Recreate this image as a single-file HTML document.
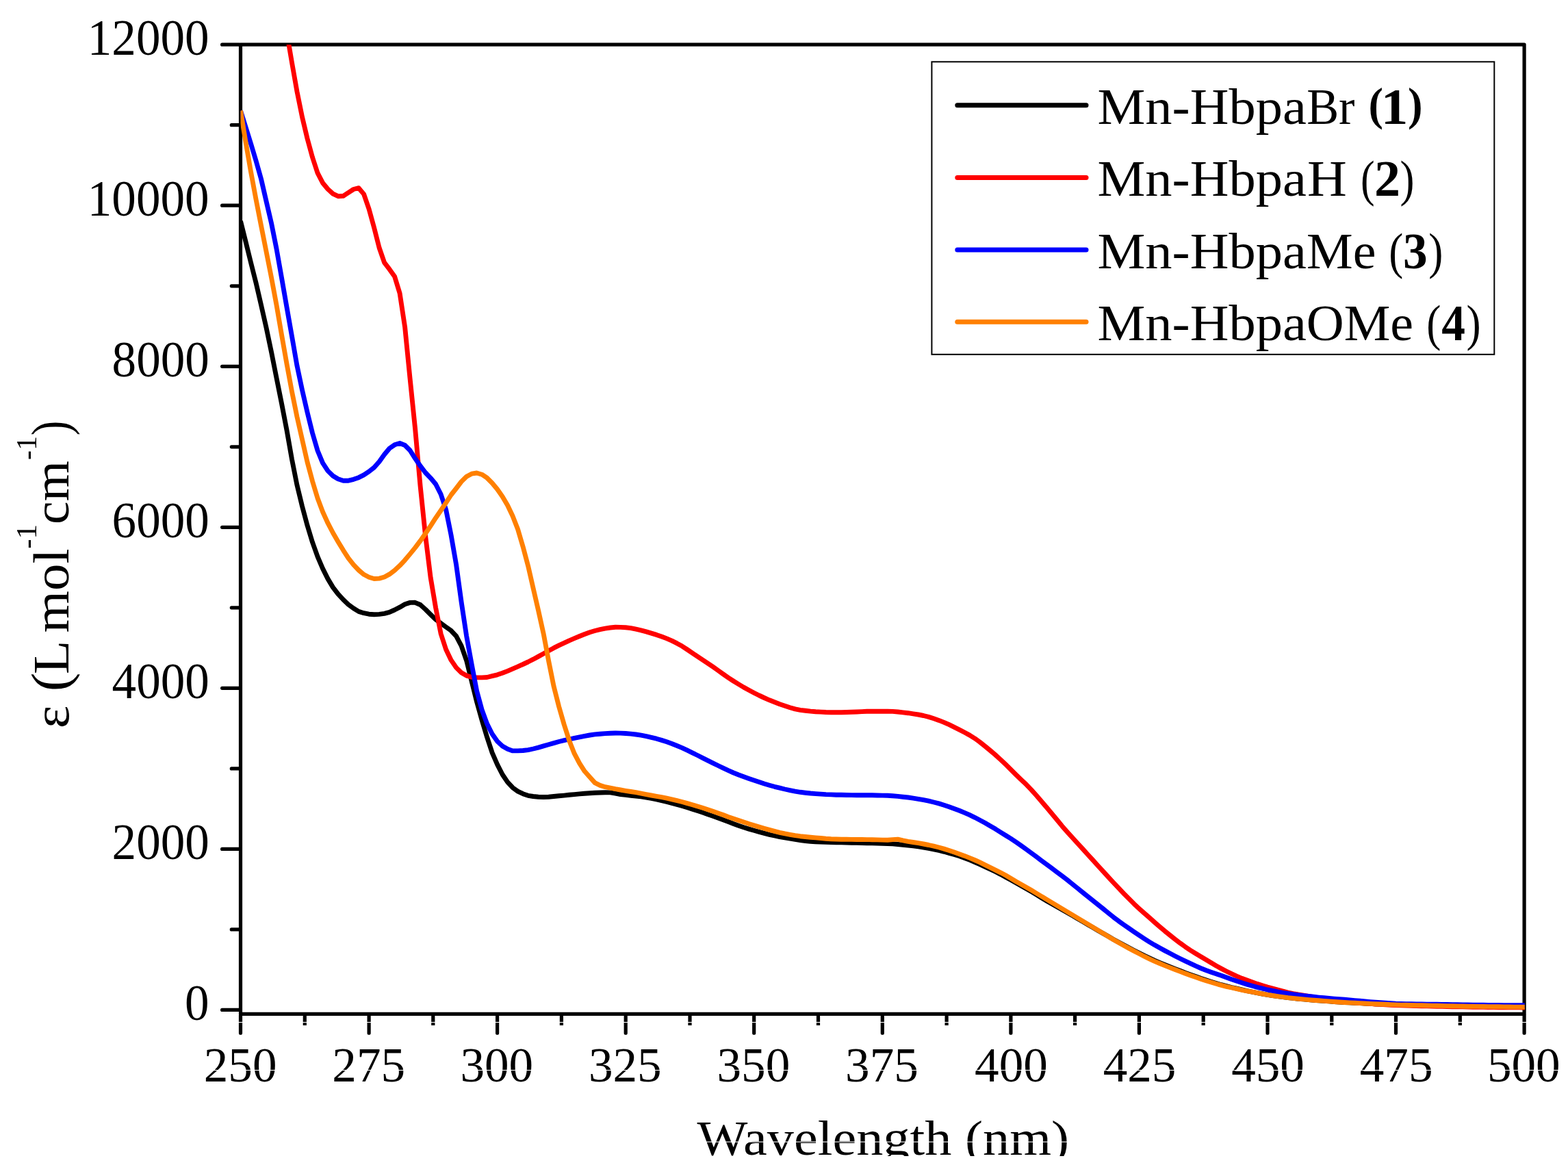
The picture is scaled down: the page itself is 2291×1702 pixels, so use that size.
<!DOCTYPE html>
<html lang="en"><head><meta charset="utf-8"><title>UV-Vis spectra</title>
<style>
html,body{margin:0;padding:0;background:#fff;}
svg{display:block;font-family:'Liberation Serif', serif;}
</style></head><body>
<svg width="2291" height="1702" viewBox="0 0 2291 1702">
<rect x="0" y="0" width="2291" height="1702" fill="#fff"/>
<defs><clipPath id="plot"><rect x="351.5" y="65.2" width="1876.35" height="1416.1"/></clipPath><clipPath id="ttl"><rect x="900" y="1600" width="800" height="88.9"/></clipPath></defs>
<g fill="none" stroke="#000" stroke-width="5.2" stroke-linecap="round" stroke-linejoin="round">
<rect x="351.5" y="65.2" width="1875.6" height="1416.1"/>
<path d="M324.6,1475.4H349.5M338.3,1357.9H349.5M324.6,1240.4H349.5M338.3,1122.9H349.5M324.6,1005.3H349.5M338.3,887.8H349.5M324.6,770.3H349.5M338.3,652.8H349.5M324.6,535.3H349.5M338.3,417.8H349.5M324.6,300.2H349.5M338.3,182.7H349.5M324.6,65.2H349.5M351.5,1483.3V1509.2M539.1,1483.3V1509.2M726.6,1483.3V1509.2M914.2,1483.3V1509.2M1101.7,1483.3V1509.2M1289.3,1483.3V1509.2M1476.9,1483.3V1509.2M1664.4,1483.3V1509.2M1852.0,1483.3V1509.2M2039.5,1483.3V1509.2M2227.1,1483.3V1509.2"/>
<path stroke-linecap="butt" d="M445.3,1481.3V1498M632.8,1481.3V1498M820.4,1481.3V1498M1008.0,1481.3V1498M1195.5,1481.3V1498M1383.1,1481.3V1498M1570.6,1481.3V1498M1758.2,1481.3V1498M1945.8,1481.3V1498M2133.3,1481.3V1498"/>
</g>
<g clip-path="url(#plot)" fill="none" stroke-width="6.9" stroke-linejoin="round" stroke-linecap="butt">
<path stroke="#000000" d="M351.5,323.0L359.0,353.2L366.5,383.5L374.0,413.2L381.5,445.5L389.0,478.6L396.5,514.3L404.0,552.1L411.5,589.5L419.0,628.5L426.5,671.1L434.0,708.8L441.5,739.6L449.0,767.6L456.5,792.2L464.0,813.1L471.5,830.6L479.0,845.6L486.5,858.1L494.0,867.9L501.5,876.0L509.1,883.3L516.6,888.8L524.1,893.4L531.6,895.7L539.1,897.2L546.6,897.8L554.1,897.4L561.6,896.3L569.1,894.4L576.6,891.0L584.1,887.2L591.6,882.8L599.1,880.4L606.6,880.3L614.1,883.5L621.6,890.3L629.1,897.8L636.6,905.0L644.1,910.6L651.6,916.0L659.1,921.3L666.6,929.4L674.1,943.6L681.6,965.0L689.1,995.1L696.6,1025.3L704.1,1052.1L711.6,1076.9L719.1,1099.7L726.6,1116.9L734.1,1131.5L741.6,1142.7L749.1,1150.7L756.6,1156.1L764.1,1159.7L771.6,1162.3L779.1,1163.5L786.6,1164.2L794.1,1164.5L801.6,1164.2L809.1,1163.5L816.6,1162.8L824.2,1162.1L831.7,1161.3L839.2,1160.6L846.7,1159.9L854.2,1159.2L861.7,1158.7L869.2,1158.3L876.7,1158.0L884.2,1157.8L891.7,1157.9L899.2,1159.1L906.7,1160.5L914.2,1161.4L921.7,1162.2L929.2,1163.0L936.7,1163.9L944.2,1165.1L951.7,1166.4L959.2,1168.0L966.7,1169.7L974.2,1171.5L981.7,1173.4L989.2,1175.4L996.7,1177.4L1004.2,1179.7L1011.7,1182.1L1019.2,1184.6L1026.7,1187.1L1034.2,1189.7L1041.7,1192.3L1049.2,1195.0L1056.7,1197.8L1064.2,1200.6L1071.7,1203.5L1079.2,1206.2L1086.7,1208.8L1094.2,1211.1L1101.7,1213.3L1109.2,1215.4L1116.7,1217.4L1124.2,1219.3L1131.7,1221.0L1139.3,1222.6L1146.8,1223.9L1154.3,1225.1L1161.8,1226.4L1169.3,1227.5L1176.8,1228.5L1184.3,1229.2L1191.8,1229.8L1199.3,1230.1L1206.8,1230.3L1214.3,1230.5L1221.8,1230.7L1229.3,1230.9L1236.8,1231.0L1244.3,1231.2L1251.8,1231.4L1259.3,1231.5L1266.8,1231.7L1274.3,1231.8L1281.8,1232.0L1289.3,1232.3L1296.8,1232.5L1304.3,1232.9L1311.8,1233.5L1319.3,1234.2L1326.8,1235.0L1334.3,1235.9L1341.8,1236.9L1349.3,1238.0L1356.8,1239.3L1364.3,1240.8L1371.8,1242.5L1379.3,1244.3L1386.8,1246.4L1394.3,1248.5L1401.8,1250.8L1409.3,1253.5L1416.8,1256.4L1424.3,1259.6L1431.8,1262.9L1439.3,1266.4L1446.9,1269.9L1454.4,1273.5L1461.9,1277.3L1469.4,1281.4L1476.9,1285.5L1484.4,1289.6L1491.9,1293.9L1499.4,1298.2L1506.9,1302.6L1514.4,1307.1L1521.9,1311.7L1529.4,1316.2L1536.9,1320.5L1544.4,1324.8L1551.9,1329.0L1559.4,1333.3L1566.9,1337.6L1574.4,1342.0L1581.9,1346.3L1589.4,1350.7L1596.9,1355.1L1604.4,1359.4L1611.9,1363.8L1619.4,1368.1L1626.9,1372.4L1634.4,1376.5L1641.9,1380.6L1649.4,1384.6L1656.9,1388.5L1664.4,1392.3L1671.9,1396.1L1679.4,1399.7L1686.9,1403.1L1694.4,1406.3L1701.9,1409.4L1709.4,1412.5L1716.9,1415.4L1724.4,1418.3L1731.9,1421.2L1739.4,1423.9L1746.9,1426.6L1754.4,1429.3L1762.0,1431.8L1769.5,1434.2L1777.0,1436.5L1784.5,1438.7L1792.0,1440.6L1799.5,1442.5L1807.0,1444.2L1814.5,1445.9L1822.0,1447.6L1829.5,1449.1L1837.0,1450.6L1844.5,1452.0L1852.0,1453.3L1859.5,1454.5L1867.0,1455.6L1874.5,1456.6L1882.0,1457.6L1889.5,1458.4L1897.0,1459.2L1904.5,1459.9L1912.0,1460.6L1919.5,1461.2L1927.0,1461.8L1934.5,1462.4L1942.0,1462.9L1949.5,1463.5L1957.0,1464.0L1964.5,1464.5L1972.0,1464.9L1979.5,1465.3L1987.0,1465.6L1994.5,1466.0L2002.0,1466.4L2009.5,1466.7L2017.0,1467.0L2024.5,1467.3L2032.0,1467.6L2039.5,1467.9L2047.0,1468.1L2054.5,1468.3L2062.0,1468.5L2069.5,1468.7L2077.1,1468.8L2084.6,1469.0L2092.1,1469.1L2099.6,1469.3L2107.1,1469.4L2114.6,1469.6L2122.1,1469.7L2129.6,1469.9L2137.1,1470.0L2144.6,1470.2L2152.1,1470.3L2159.6,1470.4L2167.1,1470.5L2174.6,1470.6L2182.1,1470.7L2189.6,1470.8L2197.1,1470.9L2204.6,1471.0L2212.1,1471.1L2219.6,1471.1L2227.1,1471.2L2227.9,1471.2"/>
<path stroke="#ff0000" d="M351.5,-351.9L359.0,-307.4L366.5,-263.0L374.0,-218.6L381.5,-174.3L389.0,-129.9L396.5,-85.6L404.0,-41.3L411.5,3.0L419.0,47.3L426.5,91.5L434.0,133.9L441.5,170.9L449.0,202.4L456.5,229.8L464.0,252.7L471.5,267.2L479.0,276.3L486.5,283.1L494.0,286.7L501.5,286.3L509.1,281.3L516.6,276.5L524.1,274.7L531.6,283.6L539.1,305.4L546.6,332.6L554.1,362.0L561.6,383.6L569.1,393.4L576.6,403.9L584.1,428.6L591.6,477.7L599.1,553.4L606.6,626.3L614.1,710.1L621.6,782.7L629.1,843.7L636.6,887.8L644.1,925.7L651.6,948.7L659.1,964.4L666.6,975.4L674.1,982.7L681.6,987.1L689.1,989.3L696.6,989.9L704.1,989.9L711.6,989.5L719.1,987.7L726.6,985.8L734.1,983.3L741.6,980.4L749.1,977.1L756.6,973.8L764.1,970.5L771.6,967.0L779.1,963.2L786.6,959.1L794.1,954.9L801.6,950.8L809.1,946.7L816.6,942.9L824.2,939.3L831.7,935.8L839.2,932.6L846.7,929.5L854.2,926.5L861.7,923.7L869.2,921.5L876.7,919.7L884.2,918.2L891.7,917.0L899.2,916.3L906.7,916.4L914.2,916.8L921.7,917.6L929.2,919.2L936.7,920.9L944.2,922.9L951.7,925.1L959.2,927.4L966.7,930.0L974.2,932.9L981.7,936.2L989.2,939.9L996.7,944.1L1004.2,949.0L1011.7,954.1L1019.2,959.1L1026.7,964.1L1034.2,969.1L1041.7,974.2L1049.2,979.5L1056.7,984.9L1064.2,990.1L1071.7,995.0L1079.2,999.6L1086.7,1004.1L1094.2,1008.2L1101.7,1012.2L1109.2,1016.0L1116.7,1019.5L1124.2,1022.8L1131.7,1025.8L1139.3,1028.7L1146.8,1031.2L1154.3,1033.7L1161.8,1035.9L1169.3,1037.4L1176.8,1038.3L1184.3,1039.1L1191.8,1039.7L1199.3,1040.1L1206.8,1040.5L1214.3,1040.7L1221.8,1040.8L1229.3,1040.7L1236.8,1040.5L1244.3,1040.3L1251.8,1040.0L1259.3,1039.6L1266.8,1039.3L1274.3,1039.3L1281.8,1039.3L1289.3,1039.3L1296.8,1039.3L1304.3,1039.4L1311.8,1040.0L1319.3,1040.9L1326.8,1041.7L1334.3,1042.8L1341.8,1044.0L1349.3,1045.5L1356.8,1047.4L1364.3,1049.8L1371.8,1052.4L1379.3,1055.4L1386.8,1058.7L1394.3,1062.4L1401.8,1066.1L1409.3,1070.0L1416.8,1074.1L1424.3,1078.8L1431.8,1084.2L1439.3,1090.2L1446.9,1096.5L1454.4,1102.9L1461.9,1109.7L1469.4,1116.8L1476.9,1124.2L1484.4,1131.7L1491.9,1138.9L1499.4,1146.1L1506.9,1153.9L1514.4,1162.2L1521.9,1171.0L1529.4,1179.8L1536.9,1188.7L1544.4,1197.8L1551.9,1206.9L1559.4,1215.5L1566.9,1223.8L1574.4,1232.0L1581.9,1240.2L1589.4,1248.5L1596.9,1256.7L1604.4,1265.0L1611.9,1273.1L1619.4,1281.3L1626.9,1289.5L1634.4,1297.4L1641.9,1305.3L1649.4,1312.9L1656.9,1320.4L1664.4,1327.4L1671.9,1334.1L1679.4,1340.7L1686.9,1347.3L1694.4,1353.8L1701.9,1360.2L1709.4,1366.3L1716.9,1372.2L1724.4,1377.9L1731.9,1383.3L1739.4,1388.4L1746.9,1393.0L1754.4,1397.5L1762.0,1402.0L1769.5,1406.5L1777.0,1411.0L1784.5,1415.1L1792.0,1419.0L1799.5,1422.7L1807.0,1426.1L1814.5,1429.3L1822.0,1432.1L1829.5,1434.8L1837.0,1437.4L1844.5,1439.7L1852.0,1442.0L1859.5,1444.1L1867.0,1446.1L1874.5,1448.1L1882.0,1450.0L1889.5,1451.6L1897.0,1453.0L1904.5,1454.2L1912.0,1455.5L1919.5,1456.7L1927.0,1457.9L1934.5,1459.0L1942.0,1460.1L1949.5,1461.1L1957.0,1462.0L1964.5,1462.9L1972.0,1463.7L1979.5,1464.5L1987.0,1465.2L1994.5,1465.9L2002.0,1466.4L2009.5,1467.0L2017.0,1467.4L2024.5,1467.9L2032.0,1468.3L2039.5,1468.6L2047.0,1468.8L2054.5,1469.1L2062.0,1469.3L2069.5,1469.5L2077.1,1469.7L2084.6,1469.9L2092.1,1470.0L2099.6,1470.2L2107.1,1470.4L2114.6,1470.5L2122.1,1470.7L2129.6,1470.8L2137.1,1470.9L2144.6,1471.1L2152.1,1471.2L2159.6,1471.3L2167.1,1471.4L2174.6,1471.5L2182.1,1471.6L2189.6,1471.7L2197.1,1471.7L2204.6,1471.8L2212.1,1471.9L2219.6,1471.9L2227.1,1472.0L2227.9,1472.0"/>
<path stroke="#0000ff" d="M351.5,161.8L359.0,185.9L366.5,209.7L374.0,234.7L381.5,261.4L389.0,293.9L396.5,326.0L404.0,363.5L411.5,405.9L419.0,448.8L426.5,491.4L434.0,534.3L441.5,569.7L449.0,602.2L456.5,632.6L464.0,658.2L471.5,676.4L479.0,687.9L486.5,695.2L494.0,699.8L501.5,702.2L509.1,702.2L516.6,700.3L524.1,697.7L531.6,693.9L539.1,688.9L546.6,683.0L554.1,674.5L561.6,664.0L569.1,655.0L576.6,649.8L584.1,647.5L591.6,650.5L599.1,658.0L606.6,669.8L614.1,680.7L621.6,690.5L629.1,698.3L636.6,707.3L644.1,722.0L651.6,744.5L659.1,781.9L666.6,825.0L674.1,879.5L681.6,929.1L689.1,970.2L696.6,1009.3L704.1,1036.9L711.6,1057.4L719.1,1072.3L726.6,1082.9L734.1,1089.9L741.6,1094.3L749.1,1096.9L756.6,1096.9L764.1,1096.5L771.6,1095.6L779.1,1094.0L786.6,1092.1L794.1,1089.9L801.6,1087.7L809.1,1085.6L816.6,1083.5L824.2,1081.7L831.7,1080.0L839.2,1078.3L846.7,1076.8L854.2,1075.4L861.7,1074.0L869.2,1072.9L876.7,1072.2L884.2,1071.6L891.7,1071.3L899.2,1071.0L906.7,1071.1L914.2,1071.5L921.7,1072.1L929.2,1073.0L936.7,1074.2L944.2,1075.6L951.7,1077.3L959.2,1079.2L966.7,1081.4L974.2,1083.8L981.7,1086.5L989.2,1089.5L996.7,1092.6L1004.2,1096.2L1011.7,1099.9L1019.2,1103.5L1026.7,1107.3L1034.2,1111.1L1041.7,1114.8L1049.2,1118.5L1056.7,1122.2L1064.2,1125.7L1071.7,1129.0L1079.2,1132.0L1086.7,1134.8L1094.2,1137.5L1101.7,1140.1L1109.2,1142.6L1116.7,1145.0L1124.2,1147.2L1131.7,1149.3L1139.3,1151.2L1146.8,1153.0L1154.3,1154.6L1161.8,1156.1L1169.3,1157.3L1176.8,1158.2L1184.3,1159.0L1191.8,1159.6L1199.3,1160.1L1206.8,1160.6L1214.3,1160.9L1221.8,1161.2L1229.3,1161.3L1236.8,1161.5L1244.3,1161.6L1251.8,1161.7L1259.3,1161.7L1266.8,1161.8L1274.3,1161.8L1281.8,1162.0L1289.3,1162.1L1296.8,1162.3L1304.3,1162.8L1311.8,1163.4L1319.3,1164.2L1326.8,1165.0L1334.3,1166.1L1341.8,1167.3L1349.3,1168.7L1356.8,1170.2L1364.3,1172.0L1371.8,1173.9L1379.3,1176.2L1386.8,1178.7L1394.3,1181.5L1401.8,1184.3L1409.3,1187.4L1416.8,1190.7L1424.3,1194.3L1431.8,1198.2L1439.3,1202.3L1446.9,1206.7L1454.4,1211.1L1461.9,1215.8L1469.4,1220.5L1476.9,1225.2L1484.4,1230.2L1491.9,1235.4L1499.4,1240.8L1506.9,1246.2L1514.4,1251.7L1521.9,1257.4L1529.4,1263.0L1536.9,1268.6L1544.4,1274.2L1551.9,1279.8L1559.4,1285.6L1566.9,1291.6L1574.4,1297.6L1581.9,1303.7L1589.4,1309.7L1596.9,1315.7L1604.4,1321.7L1611.9,1327.8L1619.4,1333.9L1626.9,1339.9L1634.4,1345.6L1641.9,1351.0L1649.4,1356.2L1656.9,1361.3L1664.4,1366.4L1671.9,1371.3L1679.4,1376.1L1686.9,1380.6L1694.4,1384.8L1701.9,1388.9L1709.4,1392.8L1716.9,1396.7L1724.4,1400.5L1731.9,1404.1L1739.4,1407.7L1746.9,1411.2L1754.4,1414.5L1762.0,1417.5L1769.5,1420.2L1777.0,1422.8L1784.5,1425.3L1792.0,1428.0L1799.5,1430.7L1807.0,1433.3L1814.5,1435.7L1822.0,1438.1L1829.5,1440.3L1837.0,1442.4L1844.5,1444.2L1852.0,1446.0L1859.5,1447.5L1867.0,1449.0L1874.5,1450.3L1882.0,1451.5L1889.5,1452.6L1897.0,1453.6L1904.5,1454.6L1912.0,1455.5L1919.5,1456.3L1927.0,1457.1L1934.5,1457.8L1942.0,1458.5L1949.5,1459.1L1957.0,1459.6L1964.5,1460.2L1972.0,1460.9L1979.5,1461.6L1987.0,1462.3L1994.5,1462.9L2002.0,1463.6L2009.5,1464.2L2017.0,1464.7L2024.5,1465.3L2032.0,1465.8L2039.5,1466.2L2047.0,1466.4L2054.5,1466.6L2062.0,1466.7L2069.5,1466.9L2077.1,1467.0L2084.6,1467.1L2092.1,1467.2L2099.6,1467.3L2107.1,1467.4L2114.6,1467.5L2122.1,1467.7L2129.6,1467.8L2137.1,1467.9L2144.6,1468.0L2152.1,1468.1L2159.6,1468.2L2167.1,1468.3L2174.6,1468.4L2182.1,1468.4L2189.6,1468.5L2197.1,1468.6L2204.6,1468.6L2212.1,1468.7L2219.6,1468.8L2227.1,1468.8L2227.9,1468.8"/>
<path stroke="#ff8000" d="M351.5,161.6L359.0,207.5L366.5,250.8L374.0,291.1L381.5,329.5L389.0,367.4L396.5,405.3L404.0,445.7L411.5,489.1L419.0,531.7L426.5,572.2L434.0,609.0L441.5,642.0L449.0,675.0L456.5,702.9L464.0,727.8L471.5,747.7L479.0,764.2L486.5,778.5L494.0,791.4L501.5,803.8L509.1,815.6L516.6,825.2L524.1,833.0L531.6,839.3L539.1,843.2L546.6,845.5L554.1,845.1L561.6,843.0L569.1,838.9L576.6,833.3L584.1,826.3L591.6,818.3L599.1,809.4L606.6,800.1L614.1,790.2L621.6,779.5L629.1,768.3L636.6,756.7L644.1,745.8L651.6,734.6L659.1,723.0L666.6,713.5L674.1,703.6L681.6,696.2L689.1,692.2L696.6,691.0L704.1,693.2L711.6,698.2L719.1,705.7L726.6,714.8L734.1,725.5L741.6,738.3L749.1,754.0L756.6,773.3L764.1,798.7L771.6,826.8L779.1,859.6L786.6,891.9L794.1,925.7L801.6,965.5L809.1,1002.7L816.6,1032.1L824.2,1058.5L831.7,1081.9L839.2,1100.9L846.7,1115.1L854.2,1126.8L861.7,1135.2L869.2,1143.6L876.7,1147.4L884.2,1149.7L891.7,1151.2L899.2,1152.7L906.7,1154.0L914.2,1155.3L921.7,1156.5L929.2,1157.7L936.7,1159.1L944.2,1160.6L951.7,1162.0L959.2,1163.3L966.7,1164.7L974.2,1166.2L981.7,1167.8L989.2,1169.6L996.7,1171.5L1004.2,1173.6L1011.7,1175.7L1019.2,1178.0L1026.7,1180.3L1034.2,1182.7L1041.7,1185.2L1049.2,1187.9L1056.7,1190.6L1064.2,1193.4L1071.7,1196.0L1079.2,1198.6L1086.7,1201.1L1094.2,1203.6L1101.7,1205.9L1109.2,1208.1L1116.7,1210.3L1124.2,1212.4L1131.7,1214.4L1139.3,1216.3L1146.8,1217.9L1154.3,1219.3L1161.8,1220.6L1169.3,1221.7L1176.8,1222.5L1184.3,1223.2L1191.8,1223.9L1199.3,1224.5L1206.8,1225.2L1214.3,1225.7L1221.8,1226.0L1229.3,1226.2L1236.8,1226.3L1244.3,1226.4L1251.8,1226.5L1259.3,1226.5L1266.8,1226.6L1274.3,1226.7L1281.8,1226.9L1289.3,1227.1L1296.8,1227.2L1304.3,1226.6L1311.8,1226.1L1319.3,1227.9L1326.8,1229.4L1334.3,1230.5L1341.8,1231.7L1349.3,1233.0L1356.8,1234.5L1364.3,1236.2L1371.8,1238.0L1379.3,1240.1L1386.8,1242.5L1394.3,1245.1L1401.8,1247.7L1409.3,1250.4L1416.8,1253.4L1424.3,1256.5L1431.8,1259.9L1439.3,1263.6L1446.9,1267.3L1454.4,1271.1L1461.9,1274.8L1469.4,1278.8L1476.9,1283.2L1484.4,1287.8L1491.9,1292.0L1499.4,1296.2L1506.9,1300.6L1514.4,1305.1L1521.9,1309.6L1529.4,1314.1L1536.9,1318.6L1544.4,1323.1L1551.9,1327.6L1559.4,1332.1L1566.9,1336.6L1574.4,1341.1L1581.9,1345.6L1589.4,1350.1L1596.9,1354.6L1604.4,1359.1L1611.9,1363.6L1619.4,1368.2L1626.9,1372.7L1634.4,1377.1L1641.9,1381.3L1649.4,1385.4L1656.9,1389.4L1664.4,1393.3L1671.9,1397.2L1679.4,1400.8L1686.9,1404.3L1694.4,1407.5L1701.9,1410.6L1709.4,1413.6L1716.9,1416.5L1724.4,1419.4L1731.9,1422.2L1739.4,1424.9L1746.9,1427.6L1754.4,1430.2L1762.0,1432.7L1769.5,1435.0L1777.0,1437.3L1784.5,1439.4L1792.0,1441.3L1799.5,1443.0L1807.0,1444.7L1814.5,1446.3L1822.0,1447.8L1829.5,1449.2L1837.0,1450.6L1844.5,1452.0L1852.0,1453.3L1859.5,1454.5L1867.0,1455.6L1874.5,1456.6L1882.0,1457.6L1889.5,1458.4L1897.0,1459.2L1904.5,1459.9L1912.0,1460.6L1919.5,1461.2L1927.0,1461.8L1934.5,1462.4L1942.0,1462.9L1949.5,1463.5L1957.0,1464.0L1964.5,1464.5L1972.0,1464.9L1979.5,1465.3L1987.0,1465.6L1994.5,1466.0L2002.0,1466.4L2009.5,1466.7L2017.0,1467.0L2024.5,1467.3L2032.0,1467.6L2039.5,1467.9L2047.0,1468.1L2054.5,1468.3L2062.0,1468.5L2069.5,1468.7L2077.1,1468.8L2084.6,1469.0L2092.1,1469.1L2099.6,1469.3L2107.1,1469.4L2114.6,1469.6L2122.1,1469.7L2129.6,1469.9L2137.1,1470.0L2144.6,1470.2L2152.1,1470.3L2159.6,1470.4L2167.1,1470.5L2174.6,1470.6L2182.1,1470.7L2189.6,1470.8L2197.1,1470.9L2204.6,1471.0L2212.1,1471.1L2219.6,1471.1L2227.1,1471.2L2227.9,1471.2"/>
</g>
<rect x="1361.4" y="90.3" width="821.9" height="427.5" fill="#fff" stroke="#000" stroke-width="2"/>
<g fill="none" stroke-width="7" stroke-linecap="round">
<path stroke="#000000" d="M1398.8,153.8H1587"/>
<path stroke="#ff0000" d="M1398.8,259.4H1587"/>
<path stroke="#0000ff" d="M1398.8,365.0H1587"/>
<path stroke="#ff8000" d="M1398.8,470.3H1587"/>
</g>
<g fill="#000">
<text clip-path="url(#ttl)" font-size="72"><tspan x="1018.50" y="1687.40" textLength="543.60" lengthAdjust="spacingAndGlyphs">Wavelength (nm)</tspan></text>
<text font-size="73.5"><tspan x="1603.46" y="180.60" textLength="305.39" lengthAdjust="spacingAndGlyphs">Mn-Hbpa</tspan><tspan x="1909.18" y="180.60" textLength="70.39" lengthAdjust="spacingAndGlyphs">Br</tspan> <tspan x="1999.61" y="174.70" textLength="21.46" lengthAdjust="spacingAndGlyphs" font-weight="bold" font-size="66.8">(</tspan><tspan x="2017.73" y="180.60" textLength="39.61" lengthAdjust="spacingAndGlyphs" font-weight="bold">1</tspan><tspan x="2056.96" y="174.70" textLength="21.60" lengthAdjust="spacingAndGlyphs" font-weight="bold" font-size="66.8">)</tspan></text>
<text font-size="73.5"><tspan x="1603.46" y="286.10" textLength="305.39" lengthAdjust="spacingAndGlyphs">Mn-Hbpa</tspan><tspan x="1910.12" y="286.10" textLength="57.87" lengthAdjust="spacingAndGlyphs">H</tspan> <tspan x="1988.07" y="286.10" textLength="20.62" lengthAdjust="spacingAndGlyphs">(</tspan><tspan x="2008.09" y="286.10" textLength="38.05" lengthAdjust="spacingAndGlyphs" font-weight="bold">2</tspan><tspan x="2045.48" y="286.10" textLength="21.01" lengthAdjust="spacingAndGlyphs">)</tspan></text>
<text font-size="73.5"><tspan x="1603.46" y="391.60" textLength="305.39" lengthAdjust="spacingAndGlyphs">Mn-Hbpa</tspan><tspan x="1909.03" y="391.60" textLength="101.46" lengthAdjust="spacingAndGlyphs">Me</tspan> <tspan x="2029.33" y="391.60" textLength="21.01" lengthAdjust="spacingAndGlyphs">(</tspan><tspan x="2050.09" y="391.60" textLength="35.68" lengthAdjust="spacingAndGlyphs" font-weight="bold">3</tspan><tspan x="2087.17" y="391.60" textLength="21.13" lengthAdjust="spacingAndGlyphs">)</tspan></text>
<text font-size="73.5"><tspan x="1603.46" y="497.10" textLength="305.39" lengthAdjust="spacingAndGlyphs">Mn-Hbpa</tspan><tspan x="1908.80" y="497.10" textLength="156.24" lengthAdjust="spacingAndGlyphs">OMe</tspan> <tspan x="2084.31" y="497.10" textLength="21.13" lengthAdjust="spacingAndGlyphs">(</tspan><tspan x="2106.26" y="497.10" textLength="34.70" lengthAdjust="spacingAndGlyphs" font-weight="bold">4</tspan><tspan x="2142.47" y="497.10" textLength="21.13" lengthAdjust="spacingAndGlyphs">)</tspan></text>
<text transform="translate(270.09,1489.90) scale(0.9680,1)" font-size="73.5">0</text>
<text transform="translate(163.61,1254.87) scale(0.9680,1)" font-size="73.5">2000</text>
<text transform="translate(163.61,1019.83) scale(0.9680,1)" font-size="73.5">4000</text>
<text transform="translate(163.61,784.80) scale(0.9680,1)" font-size="73.5">6000</text>
<text transform="translate(163.61,549.77) scale(0.9680,1)" font-size="73.5">8000</text>
<text transform="translate(127.79,314.73) scale(0.9680,1)" font-size="73.5">10000</text>
<text transform="translate(127.79,79.70) scale(0.9680,1)" font-size="73.5">12000</text>
<text transform="translate(297.76,1579.60) scale(0.9800,1)" font-size="72.6">250</text>
<text transform="translate(485.32,1579.60) scale(0.9800,1)" font-size="72.6">275</text>
<text transform="translate(672.40,1579.60) scale(0.9800,1)" font-size="72.6">300</text>
<text transform="translate(859.96,1579.60) scale(0.9800,1)" font-size="72.6">325</text>
<text transform="translate(1047.52,1579.60) scale(0.9800,1)" font-size="72.6">350</text>
<text transform="translate(1235.08,1579.60) scale(0.9800,1)" font-size="72.6">375</text>
<text transform="translate(1424.09,1579.60) scale(0.9800,1)" font-size="72.6">400</text>
<text transform="translate(1611.65,1579.60) scale(0.9800,1)" font-size="72.6">425</text>
<text transform="translate(1799.21,1579.60) scale(0.9800,1)" font-size="72.6">450</text>
<text transform="translate(1986.77,1579.60) scale(0.9800,1)" font-size="72.6">475</text>
<text transform="translate(2172.88,1579.60) scale(0.9800,1)" font-size="72.6">500</text>
<text transform="translate(99.7,1061.5) rotate(-90)" font-size="73.5"><tspan x="-2.89" y="0.00" textLength="33.65" lengthAdjust="spacingAndGlyphs">ε</tspan> <tspan x="51.16" y="0.00" textLength="27.57" lengthAdjust="spacingAndGlyphs" font-size="79">(</tspan><tspan x="76.63" y="0.00" textLength="46.44" lengthAdjust="spacingAndGlyphs">L</tspan> <tspan x="137.05" y="0.00" textLength="122.89" lengthAdjust="spacingAndGlyphs">mol</tspan><tspan x="259.65" y="-47.00" textLength="35.82" lengthAdjust="spacingAndGlyphs" font-size="42">-1</tspan> <tspan x="295.60" y="0.00" textLength="92.82" lengthAdjust="spacingAndGlyphs">cm</tspan><tspan x="389.51" y="-47.00" textLength="34.88" lengthAdjust="spacingAndGlyphs" font-size="42">-1</tspan><tspan x="425.22" y="0.00" textLength="21.71" lengthAdjust="spacingAndGlyphs" font-size="79">)</tspan></text>
</g>
<g fill="#fff"><rect x="300" y="1493" width="1991" height="1.1"/><rect x="250" y="1563" width="2041" height="1.1"/><rect x="950" y="1667.7" width="700" height="1.1"/></g>
</svg></body></html>
